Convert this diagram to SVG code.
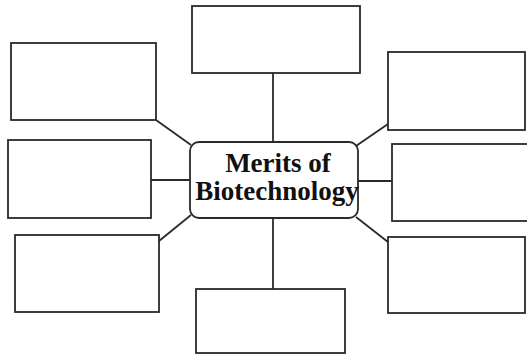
<svg xmlns="http://www.w3.org/2000/svg" width="527" height="356" viewBox="0 0 527 356">
<style>
.box{fill:#fff;stroke:#2a2a2a;stroke-width:1.8}
.con{stroke:#2a2a2a;stroke-width:1.8;fill:none}
.t{font-family:"Liberation Serif","Times New Roman",serif;font-weight:bold;font-size:27px;fill:#111;text-anchor:middle}
</style>
<rect width="527" height="356" fill="#fff"/>
<g id="connectors">
<line class="con" x1="273" y1="73" x2="273" y2="142"/>
<line class="con" x1="156" y1="120" x2="191" y2="145"/>
<line class="con" x1="151" y1="180" x2="190" y2="180"/>
<line class="con" x1="159" y1="241" x2="191" y2="215"/>
<line class="con" x1="273" y1="218" x2="273" y2="289"/>
<line class="con" x1="356" y1="146" x2="388" y2="124"/>
<line class="con" x1="358" y1="181" x2="392" y2="181"/>
<line class="con" x1="356" y1="217" x2="388" y2="242"/>
</g>
<g id="top"><rect class="box" x="192" y="6" width="168" height="67"/></g>
<g id="left-top"><rect class="box" x="11" y="43" width="145" height="77"/></g>
<g id="left-middle"><rect class="box" x="8" y="140" width="143" height="78"/></g>
<g id="left-bottom"><rect class="box" x="15" y="235" width="144" height="77"/></g>
<g id="bottom"><rect class="box" x="196" y="289" width="149" height="64"/></g>
<g id="right-top"><rect class="box" x="388" y="52" width="137" height="78"/></g>
<g id="right-middle"><rect class="box" x="392" y="144" width="140" height="77"/></g>
<g id="right-bottom"><rect class="box" x="388" y="237" width="137" height="76"/></g>
<g id="center">
<rect class="box" x="190" y="142" width="168" height="76" rx="9"/>
<text class="t" x="278" y="172">Merits of</text>
<text class="t" x="277" y="200">Biotechnology</text>
</g>
</svg>
